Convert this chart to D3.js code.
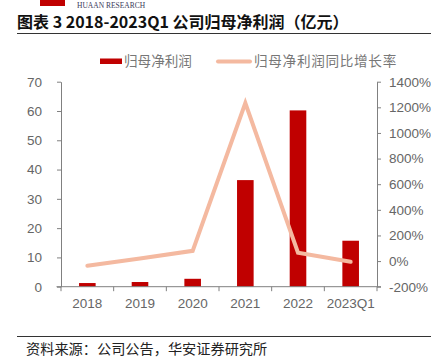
<!DOCTYPE html>
<html>
<head>
<meta charset="utf-8">
<script src="https://cdn.jsdelivr.net/npm/d3@7"></script>
<style>
  html, body { margin: 0; padding: 0; background: #fff; }
  svg { display: block; }
</style>
</head>
<body>
<svg id="chart" width="431" height="357"></svg>
<script>
const categories = ["2018", "2019", "2020", "2021", "2022", "2023Q1"];
const profit = [1.25, 1.6, 2.7, 36.4, 60.2, 15.7];          // 归母净利润 (亿元)
const growth = [-37, 20, 80, 1234, 66, -6];                 // 同比增长率 (%)
const leftTicks = [0, 10, 20, 30, 40, 50, 60, 70];
const rightTicks = [-200, 0, 200, 400, 600, 800, 1000, 1200, 1400];
const seriesNames = ["归母净利润", "归母净利润同比增长率"];

const svg = d3.select("#chart");
const plot = { left: 61, right: 377, top: 81.7, bottom: 286.7 };
const barColor = "#C00000", lineColor = "#F4B9A0", axisColor = "#808080", textColor = "#666666";
const cjk = "'Noto Sans CJK SC', sans-serif";
const latin = "'Liberation Sans', Arial, sans-serif";

// Header logo fragment
svg.append("rect").attr("x", 40).attr("y", 0).attr("width", 25).attr("height", 6).attr("fill", barColor);
svg.append("text").attr("x", 77).attr("y", 7.5).text("HUAAN RESEARCH")
  .attr("font-family", "'Liberation Serif', serif").attr("font-size", 7.5).attr("fill", "#3a3a5a");

// Title
svg.append("text").attr("x", 17).attr("y", 28)
  .attr("font-family", cjk).attr("font-weight", "bold").attr("font-size", 16).attr("fill", "#111")
  .text("图表 3 2018-2023Q1 公司归母净利润（亿元）");
svg.append("line").attr("x1", 17).attr("x2", 431).attr("y1", 33.5).attr("y2", 33.5)
  .attr("stroke", "#333").attr("stroke-width", 1);

// Scales
const xc = d3.scaleBand().domain(categories).range([plot.left, plot.right]);
const yL = d3.scaleLinear().domain([0, 70]).range([plot.bottom, plot.top]);
const yR = d3.scaleLinear().domain([-200, 1400]).range([plot.bottom, plot.top]);

// Bars
svg.append("g").selectAll("rect").data(categories).join("rect")
  .attr("x", d => xc(d) + xc.bandwidth() / 2 - 8.3)
  .attr("width", 16.6)
  .attr("y", (d, i) => yL(profit[i]))
  .attr("height", (d, i) => yL(0) - yL(profit[i]))
  .attr("fill", barColor);

// Line
const line = d3.line().x((d, i) => xc(categories[i]) + xc.bandwidth() / 2).y(d => yR(d));
svg.append("path").datum(growth).attr("d", line)
  .attr("fill", "none").attr("stroke", lineColor).attr("stroke-width", 4)
  .attr("stroke-linejoin", "miter").attr("stroke-linecap", "round");

// Axes
function styleAxis(g) {
  g.select(".domain").attr("stroke", axisColor);
  g.selectAll(".tick line").attr("stroke", axisColor);
  g.selectAll(".tick text").attr("fill", textColor).attr("font-family", latin).attr("font-size", 13.5);
}
const gL = svg.append("g").attr("transform", `translate(${plot.left},0)`)
  .call(d3.axisLeft(yL).tickValues(leftTicks).tickSize(4).tickSizeOuter(0).tickPadding(15));
styleAxis(gL);
const gR = svg.append("g").attr("transform", `translate(${plot.right},0)`)
  .call(d3.axisRight(yR).tickValues(rightTicks).tickSize(4).tickSizeOuter(0).tickPadding(8)
    .tickFormat(d => d + "%"));
styleAxis(gR);

// X axis baseline with boundary ticks
const gx = svg.append("g");
gx.append("line").attr("x1", plot.left - 4.5).attr("x2", plot.right + 4).attr("y1", plot.bottom).attr("y2", plot.bottom)
  .attr("stroke", axisColor);
const bounds = categories.map(c => xc(c)).concat([plot.right]);
gx.selectAll("line.b").data(bounds).join("line").attr("class", "b")
  .attr("x1", d => d).attr("x2", d => d).attr("y1", plot.bottom).attr("y2", plot.bottom + 4.5)
  .attr("stroke", axisColor);
gx.selectAll("text").data(categories).join("text")
  .attr("x", d => xc(d) + xc.bandwidth() / 2).attr("y", plot.bottom + 21)
  .attr("text-anchor", "middle").attr("fill", textColor).attr("font-family", latin).attr("font-size", 13.5)
  .text(d => d);

// Legend
const lg = svg.append("g").attr("font-family", cjk).attr("font-size", 13.6).attr("fill", "#777");
lg.append("rect").attr("x", 100).attr("y", 58.5).attr("width", 22).attr("height", 5.5).attr("fill", barColor);
lg.append("text").attr("x", 124).attr("y", 66).text(seriesNames[0]);
lg.append("line").attr("x1", 218).attr("x2", 250).attr("y1", 61.5).attr("y2", 61.5)
  .attr("stroke", lineColor).attr("stroke-width", 4).attr("stroke-linecap", "round");
lg.append("text").attr("x", 254).attr("y", 66).attr("letter-spacing", 0.7).text(seriesNames[1]);

// Footer
svg.append("line").attr("x1", 17).attr("x2", 431).attr("y1", 336.5).attr("y2", 336.5)
  .attr("stroke", "#333").attr("stroke-width", 1);
svg.append("text").attr("x", 26).attr("y", 354).attr("font-family", cjk).attr("font-size", 14.2).attr("fill", "#222")
  .text("资料来源：公司公告，华安证券研究所");
</script>
</body>
</html>
